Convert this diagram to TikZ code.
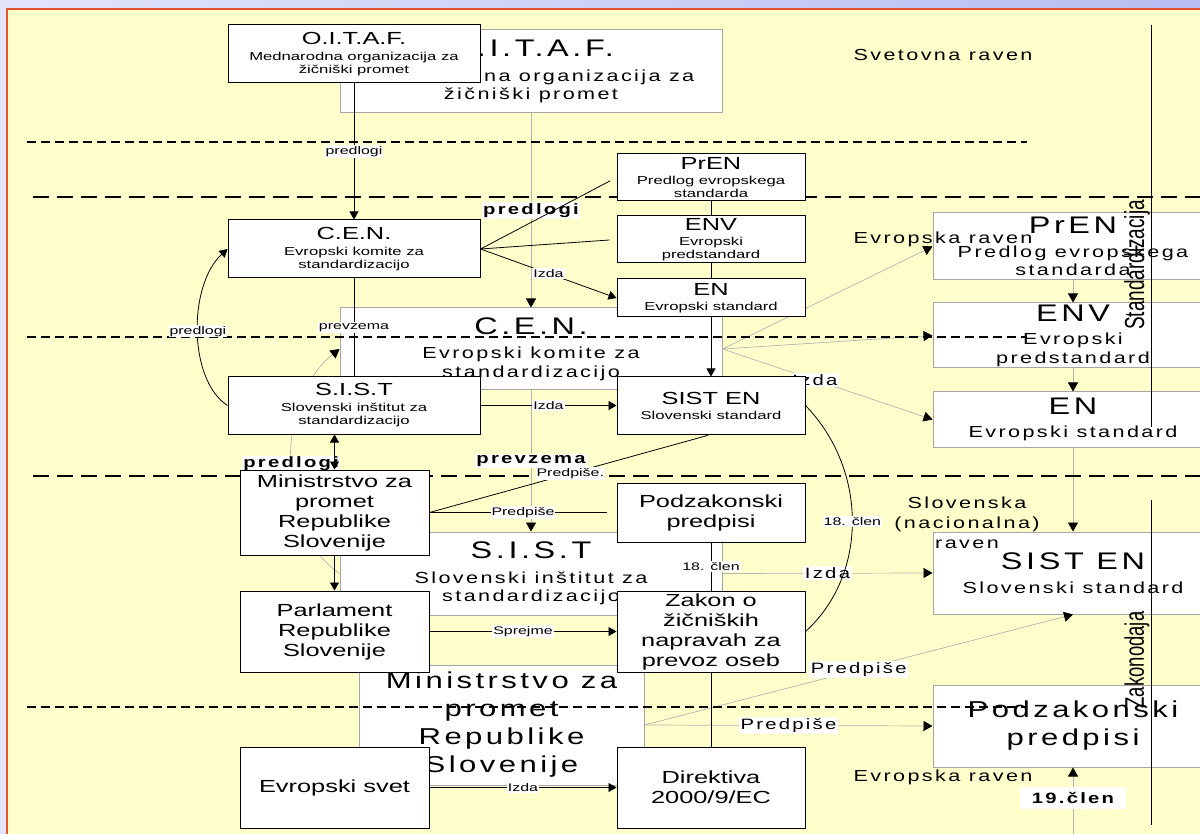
\documentclass[tikz,border=0pt]{standalone}
\usepackage{fontspec}
\usepackage{graphicx}
\setmainfont{Liberation Sans}
\newfontfamily\frontfont[FakeStretch=1.45]{Liberation Sans}
\newfontfamily\ghostfont[FakeStretch=1.35,LetterSpace=15]{Liberation Sans}
\usetikzlibrary{arrows.meta}
\definecolor{bgyel}{HTML}{FFFFCC}
\definecolor{lavl}{HTML}{E2E4FA}
\definecolor{lavr}{HTML}{B6BEF2}
\definecolor{framec}{HTML}{E0542C}
\definecolor{ghostc}{HTML}{B4B4B4}
\definecolor{gedge}{HTML}{A6A6A6}
\newcommand{\fttl}{\frontfont\fontsize{17.5}{20}\selectfont}
\newcommand{\fsub}{\frontfont\fontsize{11.5}{13}\selectfont}
\newcommand{\flbl}{\frontfont\fontsize{11}{12}\selectfont}
\newcommand{\gttl}{\ghostfont\fontsize{24}{26}\selectfont}
\newcommand{\gsub}{\ghostfont\fontsize{16}{18.5}\selectfont}
\newcommand{\gbig}{\ghostfont\fontsize{23}{28}\selectfont}
\newcommand{\glbl}{\ghostfont\fontsize{15}{17}\selectfont}
\newcommand{\greg}{\ghostfont\fontsize{16}{20}\selectfont}
\tikzset{
  box/.style={draw, line width=1pt, fill=white, align=center, inner sep=0pt, font=\fsub},
  gbox/.style={draw=gedge, line width=1pt, fill=white, align=center, inner sep=0pt, font=\gsub},
  bs/.style 2 args={minimum width=#1pt, minimum height=#2pt},
  arr/.style={-{Triangle[length=8pt,width=9pt]}, line width=0.8pt},
  ln/.style={line width=0.8pt},
  garr/.style={-{Triangle[length=9pt,width=10pt,color=black]}, ghostc, line width=0.7pt},
  lab/.style={fill=white, inner sep=1pt, font=\flbl, text=black},
  glab/.style={fill=white, inner sep=1.5pt, font=\glbl, text=black},
  sepa/.style={dash pattern=on 9pt off 5pt, line width=1.5pt},
  sepb/.style={dash pattern=on 16pt off 8pt, line width=1.5pt},
}
\begin{document}
\begin{tikzpicture}[x=1pt, y=-1pt]
  \useasboundingbox (0,0) rectangle (1200,834);
  \shade[left color=lavl, right color=lavr] (0,0) rectangle (1200,834);
  \fill[bgyel] (7,9) rectangle (1200,834);
  \draw[framec, line width=2pt] (1205,9) -- (7,9) -- (7,840);

  \node[gbox, bs={382}{83}] (goitaf) at (531,71.5) {\gttl O.I.T.A.F.\\[6pt] Mednarodna organizacija za\\ žičniški promet};
  \node[gbox, bs={382}{82}] (gcen) at (531,349) {\gttl C.E.N.\\[6pt] Evropski komite za\\ standardizacijo};
  \node[gbox, bs={382}{83}] (gsist) at (531,573.5) {\gttl S.I.S.T\\[6pt] Slovenski inštitut za\\ standardizacijo};
  \node[gbox, bs={285}{120}, font=\gbig] (gminis) at (501.5,725) {Ministrstvo za\\ promet\\ Republike\\ Slovenije};
  \node[gbox, bs={280}{67}] (gpren) at (1073,246.5) {\gttl PrEN\\[5pt] Predlog evropskega\\ standarda};
  \node[gbox, bs={280}{65}] (genv) at (1073,335.5) {\gttl ENV\\[5pt] Evropski\\ predstandard};
  \node[gbox, bs={280}{55}] (gen) at (1073,419.5) {\gttl EN\\[5pt] Evropski standard};
  \node[gbox, bs={280}{82}] (gsisten) at (1073,573) {\gttl SIST EN\\[5pt] Slovenski standard};
  \node[gbox, bs={280}{82}, font=\gbig] (gpodz) at (1073,726) {Podzakonski\\ predpisi};
  \coordinate (gfoot) at (1073,840);

  \draw[garr] (goitaf) -- node[glab, font=\glbl\bfseries] {predlogi} (gcen);
  \draw[garr] (gcen.east) -- (gpren.west);
  \draw[garr] (gcen.east) -- (genv.west);
  \draw[garr] (gcen.east) -- node[glab, pos=0.44] {Izda} (gen.west);
  \draw[garr] (gpren) -- (genv);
  \draw[garr] (genv) -- (gen);
  \draw[garr] (gen) -- (gsisten);
  \draw[garr] (gcen) -- node[glab, font=\glbl\bfseries] {prevzema} (gsist);
  \draw[garr] (gsist.west) .. controls (275,530) and (275,400) .. node[glab, font=\glbl\bfseries] {predlogi} (gcen.west);
  \draw[garr] (gsist.east) -- node[glab] {Izda} (gsisten.west);
  \draw[garr] (gminis.east) -- node[glab] {Predpiše} (gpodz.west);
  \draw[garr] (gminis.east) -- node[glab] {Predpiše} (gsisten.south);
  \draw[garr] (gfoot) -- node[glab, pos=0.58, font=\glbl\bfseries, inner xsep=12pt, inner ysep=5pt] {19.člen} (gpodz.south);

  \draw[sepa] (27,142) -- (1027,142);
  \draw[sepb] (33,197) -- (1200,197);
  \draw[sepa] (27,337) -- (1027,337);
  \draw[sepb] (33,476) -- (1200,476);
  \draw[sepa] (27,707) -- (1027,707);

  \node[font=\greg] (svet) at (943,55) {Svetovna raven};
  \node[font=\greg] (evra) at (943,239) {Evropska raven};
  \node[font=\greg, align=center] (slo) at (967,523) {Slovenska\\ (nacionalna)\\ raven};
  \node[font=\greg] (evrb) at (943,777) {Evropska raven};
  \draw[line width=1pt] (1151,25) -- (1151,427);
  \draw[line width=1pt] (1151,500) -- (1151,825);
  \node[rotate=90, font=\fontsize{19}{20}\selectfont, inner sep=0pt] (stdz) at (1137,265) {\scalebox{1}[1.45]{Standardizacija}};
  \node[rotate=90, font=\fontsize{18.5}{20}\selectfont, inner sep=0pt] (zkn) at (1137,660) {\scalebox{1}[1.45]{Zakonodaja}};

  \node[box, bs={252}{58}] (oitaf) at (354,54) {\fttl O.I.T.A.F.\\[3pt] Mednarodna organizacija za\\ žičniški promet};
  \node[box, bs={252}{58}] (cen) at (354,249) {\fttl C.E.N.\\[3pt] Evropski komite za\\ standardizacijo};
  \node[box, bs={252}{57}] (sist) at (354,405.5) {\fttl S.I.S.T\\[3pt] Slovenski inštitut za\\ standardizacijo};
  \node[box, bs={188}{47}] (pren) at (711,177.5) {\fttl PrEN\\[2pt] Predlog evropskega\\ standarda};
  \node[box, bs={188}{47}] (env) at (711,239.5) {\fttl ENV\\[2pt] Evropski\\ predstandard};
  \node[box, bs={188}{38}] (en) at (711,298) {\fttl EN\\[2pt] Evropski standard};
  \node[box, bs={188}{57}] (sisten) at (711,405.5) {\fttl SIST EN\\[2pt] Slovenski standard};
  \node[box, bs={188}{59}, font=\fttl] (podz) at (711,512.5) {Podzakonski\\ predpisi};
  \node[box, bs={188}{81}, font=\fttl] (zakon) at (711,631.5) {Zakon o\\ žičniških\\ napravah za\\ prevoz oseb};
  \node[box, bs={188}{81}, font=\fttl] (direkt) at (711,787.5) {Direktiva\\ 2000/9/EC};
  \node[box, bs={189}{85}, font=\fttl] (minis) at (334.5,512.5) {Ministrstvo za\\ promet\\ Republike\\ Slovenije};
  \node[box, bs={189}{81}, font=\fttl] (parl) at (334.5,631.5) {Parlament\\ Republike\\ Slovenije};
  \node[box, bs={189}{81}, font=\fttl] (evsvet) at (334.5,787.5) {Evropski svet};

  \draw[arr] (oitaf) -- node[lab] {predlogi} (cen);
  \draw[ln, shorten >=7pt] (cen.east) -- (pren.west);
  \draw[ln, shorten >=7pt] (cen.east) -- (env.west);
  \draw[arr] (cen.east) -- node[lab] {Izda} (en.west);
  \draw[ln] (pren) -- (env); \draw[ln] (env) -- (en);
  \draw[arr] (en) -- (sisten);
  \draw[ln] (cen) -- node[lab] {prevzema} (sist);
  \draw[arr] (sist.west) .. controls (188,380) and (188,285) .. node[lab] {predlogi} (cen.west);
  \draw[arr] (sist) -- node[lab] {Izda} (sisten);
  \draw[{Triangle[length=8pt,width=9pt]}-{Triangle[length=8pt,width=9pt]}, ln] (sist.south -| minis.north) -- (minis.north);
  \draw[arr] (minis) -- (parl);
  \draw[ln, shorten >=10pt] (minis.east) -- node[lab] {Predpiše} (podz.west);
  \draw[ln, shorten >=3pt] (minis.east) -- node[lab] {Predpiše.} (sisten.south);
  \draw[arr] (parl) -- node[lab] {Sprejme} (zakon);
  \draw[arr] (evsvet) -- node[lab] {Izda} (direkt);
  \draw[ln] (podz) -- node[lab] {18. člen} (zakon);
  \draw[ln] (zakon) -- (direkt);
  \draw[ln] (sisten.east) .. controls (868,470) and (868,575) .. node[lab] {18. člen} (zakon.east);
\end{tikzpicture}
\end{document}
